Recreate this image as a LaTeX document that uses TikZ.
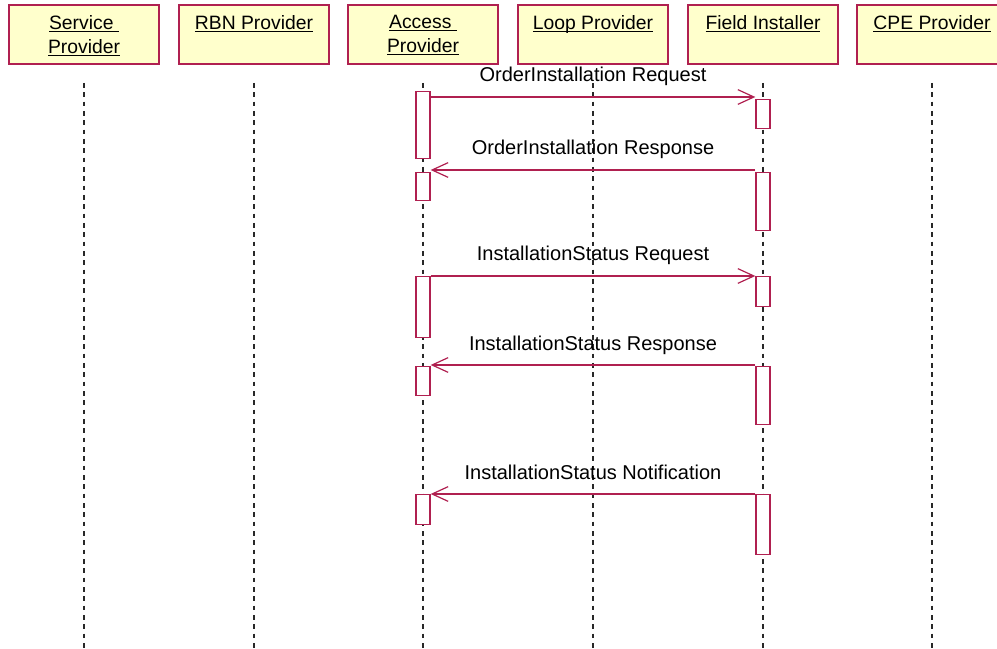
\documentclass[tikz,border=0pt]{standalone}
\usepackage{fontspec}
\setmainfont{Liberation Sans}
\usetikzlibrary{arrows.meta}
\definecolor{rose}{RGB}{176,32,80}
\definecolor{headfill}{RGB}{255,255,204}
\definecolor{lifegray}{RGB}{40,40,40}
\newcommand\hdul[1]{\underline{\raisebox{0pt}[\height][0pt]{#1}}}
\begin{document}
\begin{tikzpicture}[x=0.75pt,y=-0.75pt,
  header/.style={draw=rose, fill=headfill, line width=1.4pt, minimum width=112.5pt, minimum height=44.25pt, inner sep=0pt, anchor=north},
  headtext/.style={anchor=north, inner sep=0pt, align=center, font=\fontsize{14.5}{18}\selectfont, yshift=-8.25pt},
  lifeline/.style={draw=lifegray, line width=1.5pt, dash pattern=on 3.6pt off 3.4pt},
  act/.style={draw=rose, fill=white, line width=1pt, minimum width=10.5pt, inner sep=0pt, anchor=north},
  msg/.style={draw=rose, line width=0.9pt, -{Straight Barb[length=12pt,width=11pt,line width=0.9pt]}},
  msglabel/.style={anchor=base, font=\fontsize{15}{18}\selectfont, inner sep=0pt, yshift=11.25pt, text=black}]
\useasboundingbox (0,0) rectangle (997,649);
\clip (0,0) rectangle (997,649);
\fill[white] (0,0) rectangle (997,649);
\coordinate (bot) at (0,649);
\coordinate (top) at (0,83);
% headers
\node[header] (sp) at (84,4) {};
\node[header] (rbn) at (254,4) {};
\node[header] (ap) at (423,4) {};
\node[header] (lp) at (593,4) {};
\node[header] (fi) at (763,4) {};
\node[header] (cpe) at (932,4) {};
\node[headtext] (spt) at (sp.north) {\hdul{Service~}\\\hdul{Provider}};
\node[headtext] (rbnt) at (rbn.north) {\hdul{RBN Provider}};
\node[headtext] (apt) at (ap.north) {\hdul{Access~}\\\hdul{Provider}};
\node[headtext] (lpt) at (lp.north) {\hdul{Loop Provider}};
\node[headtext] (fit) at (fi.north) {\hdul{Field Installer}};
\node[headtext] (cpet) at (cpe.north) {\hdul{CPE Provider}};
% lifelines
\foreach \h in {sp,rbn,ap,lp,fi,cpe}{
  \draw[lifeline] (\h.south |- top) -- (\h.south |- bot);
}
% activations
\node[act, minimum height=50.25pt] (a1) at (423,91) {};
\node[act, minimum height=21.75pt] (f1) at (763,99) {};
\node[act, minimum height=21pt] (a2) at (423,172) {};
\node[act, minimum height=43.5pt] (f2) at (763,172) {};
\node[act, minimum height=45.75pt] (a3) at (423,276) {};
\node[act, minimum height=22.5pt] (f3) at (763,276) {};
\node[act, minimum height=21.75pt] (a4) at (423,366) {};
\node[act, minimum height=43.5pt] (f4) at (763,366) {};
\node[act, minimum height=22.5pt] (a5) at (423,494) {};
\node[act, minimum height=45pt] (f5) at (763,494) {};
% messages
\coordinate (m1) at (0,97);
\coordinate (m2) at (0,170);
\coordinate (m3) at (0,276);
\coordinate (m4) at (0,365);
\coordinate (m5) at (0,494);
\draw[msg] (a1.east |- m1) -- (f1.west |- m1) node[msglabel, midway] (l1) {OrderInstallation Request};
\draw[msg] (f2.west |- m2) -- (a2.east |- m2) node[msglabel, midway] (l2) {OrderInstallation Response};
\draw[msg] (a3.east |- m3) -- (f3.west |- m3) node[msglabel, midway] (l3) {InstallationStatus Request};
\draw[msg] (f4.west |- m4) -- (a4.east |- m4) node[msglabel, midway] (l4) {InstallationStatus Response};
\draw[msg] (f5.west |- m5) -- (a5.east |- m5) node[msglabel, midway] (l5) {InstallationStatus Notification};
\end{tikzpicture}
\end{document}
